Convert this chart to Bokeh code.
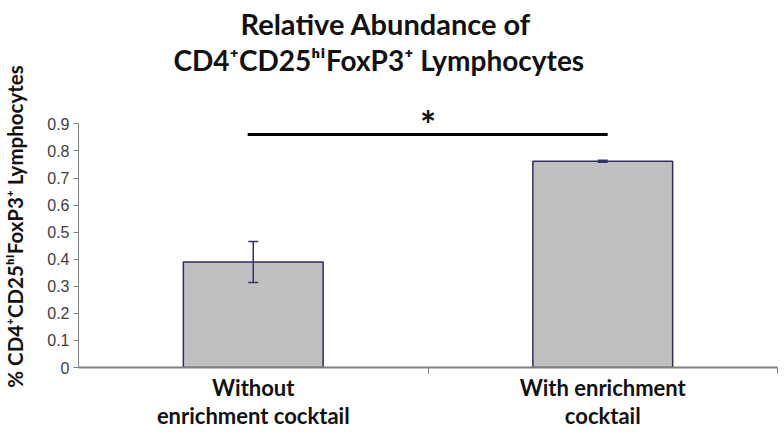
from bokeh.plotting import figure
from bokeh.models import Range1d, FixedTicker, Label, Whisker, ColumnDataSource, Title
from bokeh.embed import file_html
from bokeh.resources import INLINE

categories = ["Without\nenrichment cocktail", "With enrichment\ncocktail"]
values = [0.39, 0.762]
errors = [0.076, 0.004]
yticks = [0, 0.1, 0.2, 0.3, 0.4, 0.5, 0.6, 0.7, 0.8, 0.9]
sig_value = 0.861
title_line1 = "Relative Abundance of"
title_line2 = "CD4\u207aCD25\u02b0\u2071FoxP3\u207a  Lymphocytes"
y_label = "% CD4\u207aCD25\u02b0\u2071FoxP3\u207a Lymphocytes"

xs = [i + 0.5 for i in range(len(categories))]
src = ColumnDataSource(dict(x=xs, top=values,
                            upper=[v + e for v, e in zip(values, errors)],
                            lower=[v - e for v, e in zip(values, errors)]))

p = figure(width=784, height=432, output_backend="svg", toolbar_location=None,
           x_range=Range1d(0, len(categories)), y_range=Range1d(0, 1.042),
           min_border_left=78, min_border_right=7, min_border_top=85, min_border_bottom=64)
p.outline_line_color = None
p.grid.visible = False

p.vbar(x="x", top="top", width=0.4, source=src, fill_color="#c0c0c0",
       line_color="#2f2f5f", line_width=1.5)
w = Whisker(base="x", upper="upper", lower="lower", source=src, level="overlay",
            line_color="#35356a", line_width=1.5)
w.upper_head.line_color = "#35356a"
w.lower_head.line_color = "#35356a"
w.upper_head.line_width = 1.5
w.lower_head.line_width = 1.5
w.upper_head.size = 10
w.lower_head.size = 10
p.add_layout(w)

# significance bar
p.line(x=[xs[0] - 0.016, xs[1] + 0.014], y=[sig_value, sig_value], line_color="black", line_width=3)
p.add_layout(Label(x=1.0, y=sig_value + 0.040, text="*", text_font="Lato", text_font_style="bold",
                   text_font_size="38px", text_align="center", text_baseline="middle",
                   text_color="#111111"))

# y axis
p.yaxis.bounds = (0, 0.9)
p.yaxis.ticker = FixedTicker(ticks=yticks, minor_ticks=[])
p.yaxis.major_label_overrides = {t: ("0" if t == 0 else f"{t:.1f}") for t in yticks}
p.yaxis.major_label_text_font = "Liberation Sans"
p.yaxis.major_label_text_font_size = "16px"
p.yaxis.major_label_text_color = "#404040"
p.yaxis.axis_line_color = "#808080"
p.yaxis.major_tick_line_color = "#808080"
p.yaxis.major_tick_in = 0
p.yaxis.major_tick_out = 5
p.yaxis.major_label_standoff = 4
p.yaxis.axis_label = y_label
p.yaxis.axis_label_text_font = "Lato"
p.yaxis.axis_label_text_font_style = "bold"
p.yaxis.axis_label_text_font_size = "20.5px"
p.yaxis.axis_label_text_color = "#111111"
p.yaxis.axis_label_standoff = 17

# x axis
p.xaxis.ticker = FixedTicker(ticks=xs, minor_ticks=[1, 2])
p.xaxis.major_label_overrides = {x: c for x, c in zip(xs, categories)}
p.xaxis.major_tick_line_color = None
p.xaxis.major_tick_out = 0
p.xaxis.major_tick_in = 0
p.xaxis.minor_tick_line_color = "#808080"
p.xaxis.minor_tick_in = 0
p.xaxis.minor_tick_out = 6
p.xaxis.axis_line_color = "#808080"
p.xaxis.axis_line_width = 2
p.xaxis.major_label_text_font = "Lato"
p.xaxis.major_label_text_font_style = "bold"
p.xaxis.major_label_text_font_size = "22px"
p.xaxis.major_label_text_color = "#111111"
p.xaxis.major_label_standoff = 0
p.xaxis.major_label_text_line_height = 1.06

# titles (outer line first, inner line added below it)
p.title.text = title_line1
p.title.align = "left"
p.title.offset = 162
p.title.text_font = "Lato"
p.title.text_font_style = "bold"
p.title.text_font_size = "29px"
p.title.text_color = "#111111"
p.title.standoff = 0
t2 = Title(text=title_line2, align="left", offset=95, text_font="Lato", text_font_style="bold",
           text_font_size="28px", text_color="#111111", standoff=0,
           padding=dict(left=0, right=0, top=0, bottom=9))
p.add_layout(t2, "above")

open("out.html", "w").write(file_html(p, INLINE))
